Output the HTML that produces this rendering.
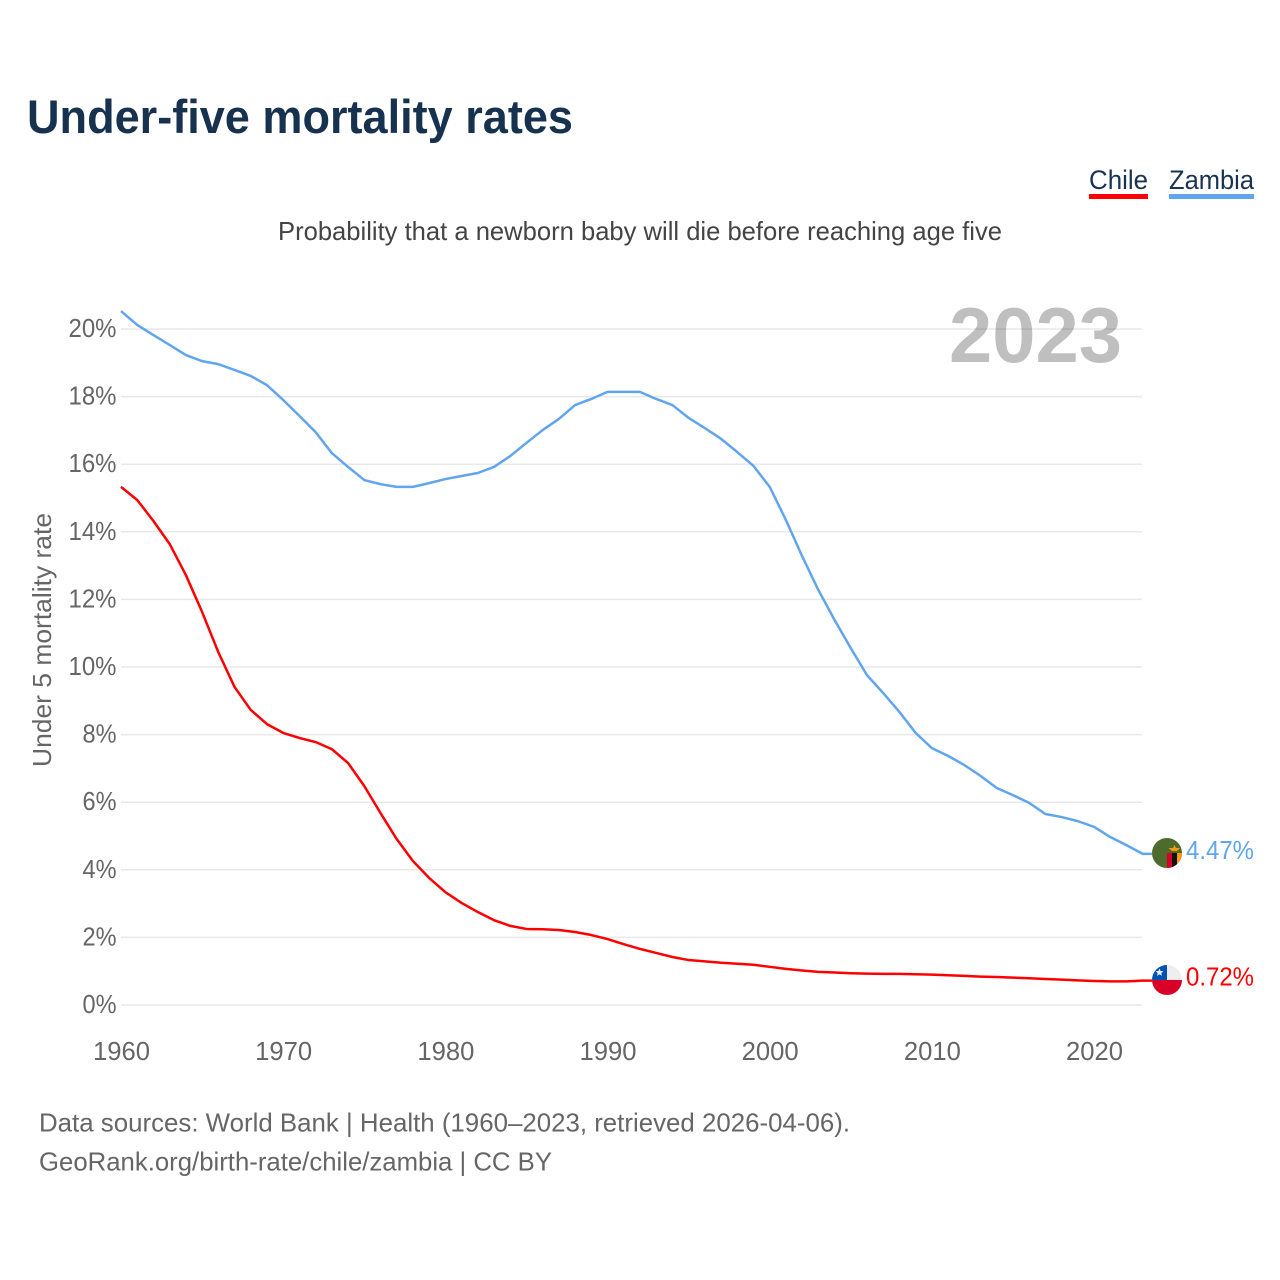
<!DOCTYPE html>
<html lang="en">
<head>
<meta charset="utf-8">
<title>Under-five mortality rates</title>
<style>
  html, body { margin: 0; padding: 0; background: #fff; }
  svg { display: block; font-family: "Liberation Sans", sans-serif; }
</style>
</head>
<body>
<svg id="chart" width="1280" height="1280" viewBox="0 0 1280 1280" xmlns="http://www.w3.org/2000/svg">
  <rect x="0" y="0" width="1280" height="1280" fill="#ffffff"/>
  <text x="27" y="133" font-size="47" font-weight="700" fill="#17324f" textLength="546" lengthAdjust="spacingAndGlyphs">Under-five mortality rates</text>
  <text x="278" y="240" font-size="26" fill="#444444" textLength="724" lengthAdjust="spacingAndGlyphs">Probability that a newborn baby will die before reaching age five</text>

  <g>
    <text x="1089" y="189" font-size="27" fill="#1a3353" textLength="59" lengthAdjust="spacingAndGlyphs">Chile</text>
    <rect x="1089" y="194" width="59" height="5" fill="#ff0000"/>
  </g>
  <g>
    <text x="1169" y="189" font-size="27" fill="#1a3353" textLength="85" lengthAdjust="spacingAndGlyphs">Zambia</text>
    <rect x="1169" y="194" width="85" height="5" fill="#60a5ee"/>
  </g>

  <text transform="translate(51 640) rotate(-90)" text-anchor="middle" font-size="26" fill="#666666" textLength="254" lengthAdjust="spacingAndGlyphs">Under 5 mortality rate</text>

  <g id="grid"></g>
  <g id="yticks"></g>
  <g id="xticks"></g>

  <text x="949" y="362" font-size="78" font-weight="700" fill="#000000" fill-opacity="0.25" textLength="173" lengthAdjust="spacingAndGlyphs">2023</text>

  <g id="series"></g>
  <g id="markers"></g>

  <defs>
    <clipPath id="clip-zambia"><circle cx="0" cy="0" r="15"/></clipPath>
    <clipPath id="clip-chile"><circle cx="0" cy="0" r="15"/></clipPath>
  </defs>

  <text x="39" y="1131.5" font-size="26" fill="#666666" textLength="811" lengthAdjust="spacingAndGlyphs">Data sources: World Bank | Health (1960–2023, retrieved 2026-04-06).</text>
  <text x="39" y="1170.5" font-size="26" fill="#666666" textLength="513" lengthAdjust="spacingAndGlyphs">GeoRank.org/birth-rate/chile/zambia | CC BY</text>
</svg>

<script>
const startYear = 1960;
const xTickYears = [1960, 1970, 1980, 1990, 2000, 2010, 2020];
const yTickValues = [0, 2, 4, 6, 8, 10, 12, 14, 16, 18, 20];
const zambiaValues = [
  20.53, 20.12, 19.82, 19.53, 19.23, 19.05, 18.96, 18.79, 18.61, 18.34,
  17.90, 17.43, 16.95, 16.33, 15.92, 15.53, 15.41, 15.33, 15.33, 15.44,
  15.56, 15.65, 15.74, 15.92, 16.24, 16.63, 17.01, 17.34, 17.75, 17.93,
  18.14, 18.14, 18.14, 17.93, 17.75, 17.37, 17.07, 16.75, 16.36, 15.95,
  15.33, 14.35, 13.28, 12.28, 11.39, 10.56, 9.76, 9.23, 8.67, 8.05,
  7.60, 7.37, 7.10, 6.78, 6.42, 6.21, 5.98, 5.65, 5.56, 5.44,
  5.27, 4.97, 4.73, 4.47
];
const chileValues = [
  15.33, 14.94, 14.32, 13.64, 12.72, 11.63, 10.44, 9.41, 8.73, 8.31,
  8.05, 7.90, 7.78, 7.57, 7.16, 6.48, 5.68, 4.91, 4.26, 3.76,
  3.34, 3.02, 2.75, 2.51, 2.34, 2.25, 2.24, 2.22, 2.16, 2.07,
  1.95, 1.80, 1.66, 1.54, 1.42, 1.33, 1.29, 1.25, 1.22, 1.19,
  1.13, 1.07, 1.02, 0.98, 0.96, 0.94, 0.93, 0.92, 0.92, 0.91,
  0.90, 0.88, 0.86, 0.84, 0.83, 0.81, 0.79, 0.77, 0.75, 0.73,
  0.71, 0.70, 0.70, 0.72
];

const SVG_NS = 'http://www.w3.org/2000/svg';
const PLOT_LEFT = 121;
const PLOT_RIGHT = 1142;
const PX_PER_YEAR = 16.217;
const Y_ZERO = 1005;
const PX_PER_PERCENT = 33.8;

function xScale(year) { return PLOT_LEFT + (year - startYear) * PX_PER_YEAR; }
function yScale(value) { return Y_ZERO - value * PX_PER_PERCENT; }

function make(tag, attrs, parent) {
  const el = document.createElementNS(SVG_NS, tag);
  for (const k in attrs) el.setAttribute(k, attrs[k]);
  parent.appendChild(el);
  return el;
}

const grid = document.getElementById('grid');
const yticks = document.getElementById('yticks');
const xticks = document.getElementById('xticks');
const series = document.getElementById('series');
const markers = document.getElementById('markers');

yTickValues.forEach(function (v) {
  const line = make('line', { x1: PLOT_LEFT, x2: PLOT_RIGHT, y1: yScale(v), y2: yScale(v), stroke: '#e9e9e9', 'stroke-width': 1.5 }, grid);
  
  
  const label = make('text', { x: 116.5, y: yScale(v) + 8, 'text-anchor': 'end', 'font-size': 25.5, fill: '#666666', textLength: v >= 10 ? 48 : 34, lengthAdjust: 'spacingAndGlyphs' }, yticks);
  label.textContent = v + '%';
  
  
});

xTickYears.forEach(function (yr) {
  const label = make('text', { x: xScale(yr) + 0.5, y: 1060, 'text-anchor': 'middle', 'font-size': 25.5, fill: '#666666', textLength: 57, lengthAdjust: 'spacingAndGlyphs' }, xticks);
  label.textContent = String(yr);
  
  
});

function drawSeries(values, color) {
  const d = values.map(function (v, i) {
    return (i ? 'L' : 'M') + xScale(startYear + i).toFixed(2) + ' ' + yScale(v).toFixed(2);
  }).join(' ');
  const lastY = yScale(values[values.length - 1]);
  const path = make('path', { d: d + ' L1152 ' + lastY.toFixed(2), fill: 'none', stroke: color, 'stroke-width': 2.5, 'stroke-linejoin': 'round', 'stroke-linecap': 'butt' }, series);
  return path;
}

const zambiaLine = drawSeries(zambiaValues, '#60a5ee');


const chileLine = drawSeries(chileValues, '#ff0000');



/* Zambia end marker */
const zVal = zambiaValues[zambiaValues.length - 1];
const zGroup = make('g', { transform: 'translate(1167 ' + (yScale(zVal) - 0.9).toFixed(2) + ')', 'clip-path': 'url(#clip-zambia)' }, markers);


make('rect', { x: -15, y: -15, width: 30, height: 30, fill: '#4d6b2c' }, zGroup);
make('rect', { x: 0, y: 0, width: 5, height: 15, fill: '#d80027' }, zGroup);
make('rect', { x: 5, y: 0, width: 5, height: 15, fill: '#111111' }, zGroup);
make('rect', { x: 10, y: 0, width: 5, height: 15, fill: '#ff9811' }, zGroup);
make('path', { d: 'M1.5 -5 L5 -2 L10 -2 L13 -5 L9 -5 L7.5 -8 L6 -5 Z', fill: '#ff9811' }, zGroup);

const zLabel = make('text', { x: 1186, y: yScale(zVal) + 5, 'font-size': 26, fill: '#60a5ee', textLength: 68, lengthAdjust: 'spacingAndGlyphs' }, markers);
zLabel.textContent = zVal.toFixed(2) + '%';



/* Chile end marker */
const cVal = chileValues[chileValues.length - 1];
const cGroup = make('g', { transform: 'translate(1167 ' + (yScale(cVal) - 0.7).toFixed(2) + ')', 'clip-path': 'url(#clip-chile)' }, markers);


make('rect', { x: -15, y: -15, width: 30, height: 15, fill: '#eeeeee' }, cGroup);
make('rect', { x: -15, y: 0, width: 30, height: 15, fill: '#d80027' }, cGroup);
make('rect', { x: -15, y: -15, width: 15, height: 15, fill: '#0052b4' }, cGroup);
make('path', { d: 'M-7.5 -11.5 L-6.4 -8.9 L-3.6 -8.7 L-5.7 -6.9 L-5 -4.2 L-7.5 -5.6 L-10 -4.2 L-9.3 -6.9 L-11.4 -8.7 L-8.6 -8.9 Z', fill: '#eeeeee' }, cGroup);

const cLabel = make('text', { x: 1186, y: yScale(cVal) + 5, 'font-size': 26, fill: '#ff0000', textLength: 68, lengthAdjust: 'spacingAndGlyphs' }, markers);
cLabel.textContent = cVal.toFixed(2) + '%';


</script>
</body>
</html>
